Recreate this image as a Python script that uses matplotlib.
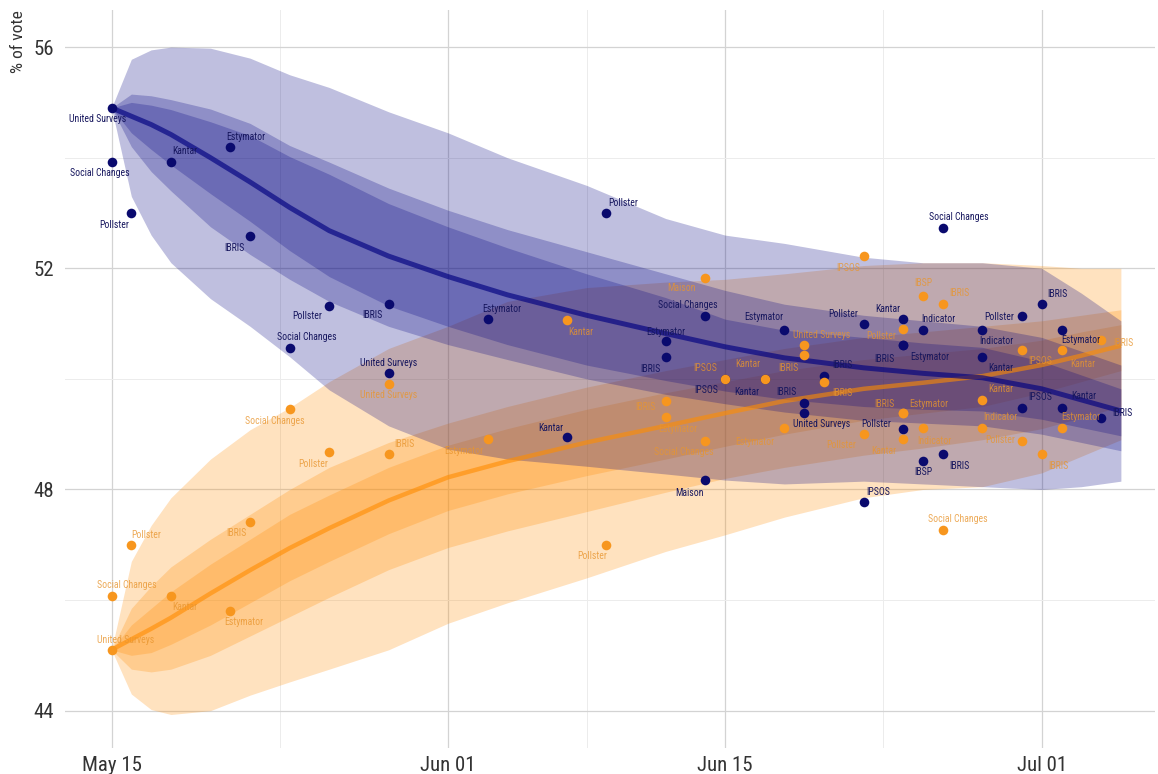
import matplotlib
matplotlib.use("Agg")
import matplotlib.pyplot as plt
import matplotlib.dates as mdates
from matplotlib import font_manager
import pandas as pd

# --- polls (second round), blue = candidate A, orange = candidate B
poll_dates = ["2020-05-15", "2020-05-15", "2020-05-16", "2020-05-18", "2020-05-21",
              "2020-05-22", "2020-05-24", "2020-05-26", "2020-05-29", "2020-05-29",
              "2020-06-03", "2020-06-07", "2020-06-09", "2020-06-12", "2020-06-12",
              "2020-06-14", "2020-06-14", "2020-06-15", "2020-06-17", "2020-06-18",
              "2020-06-19", "2020-06-19", "2020-06-20", "2020-06-22", "2020-06-22",
              "2020-06-24", "2020-06-24", "2020-06-24", "2020-06-24", "2020-06-25",
              "2020-06-25", "2020-06-26", "2020-06-26", "2020-06-28", "2020-06-28",
              "2020-06-30", "2020-06-30", "2020-07-01", "2020-07-02", "2020-07-02",
              "2020-07-04"]
pollsters = ["United Surveys", "Social Changes", "Pollster", "Kantar", "Estymator",
             "IBRIS", "Social Changes", "Pollster", "IBRIS", "United Surveys",
             "Estymator", "Kantar", "Pollster", "Estymator", "IBRIS",
             "Social Changes", "Maison", "IPSOS", "Kantar", "Estymator",
             "IBRIS", "United Surveys", "IBRIS", "Pollster", "IPSOS",
             "Kantar", "Estymator", "IBRIS", "Pollster", "Indicator",
             "IBSP", "Social Changes", "IBRIS", "Indicator", "Kantar",
             "Pollster", "IPSOS", "IBRIS", "Estymator", "Kantar",
             "IBRIS"]
blue_pct = [54.90, 53.92, 53.00, 53.92, 54.19, 52.59, 50.55, 51.32, 51.36, 50.10,
            51.09, 48.94, 53.00, 50.69, 50.40, 51.13, 48.17, 50.00, 50.00, 50.89,
            49.56, 49.39, 50.06, 51.00, 47.77, 51.09, 50.62, 50.62, 49.09, 50.89,
            48.51, 52.73, 48.65, 50.89, 50.39, 51.13, 49.48, 51.36, 50.89, 49.47,
            49.30]
orange_pct = [45.10, 46.08, 47.00, 46.08, 45.81, 47.41, 49.45, 48.68, 48.64, 49.90,
              48.91, 51.06, 47.00, 49.31, 49.60, 48.87, 51.83, 50.00, 50.00, 49.11,
              50.44, 50.61, 49.94, 49.00, 52.23, 48.91, 49.38, 49.38, 50.91, 49.11,
              51.49, 47.27, 51.35, 49.11, 49.61, 48.87, 50.52, 48.64, 49.11, 50.53,
              50.70]

# --- model trend and credible bands
trend_dates = ["2020-05-15", "2020-05-16", "2020-05-17", "2020-05-18", "2020-05-20",
               "2020-05-22", "2020-05-24", "2020-05-26", "2020-05-29", "2020-06-01",
               "2020-06-04", "2020-06-08", "2020-06-12", "2020-06-15", "2020-06-18",
               "2020-06-22", "2020-06-25", "2020-06-28", "2020-07-01", "2020-07-03",
               "2020-07-05"]
blue_trend = [54.90, 54.75, 54.60, 54.42, 54.00, 53.56, 53.10, 52.68, 52.22, 51.85, 51.52,
              51.15, 50.82, 50.58, 50.38, 50.20, 50.10, 50.02, 49.82, 49.62, 49.42]
blue_95_hi = [54.90, 55.78, 55.95, 56.00, 55.98, 55.80, 55.50, 55.27, 54.83, 54.45, 54.00,
              53.50, 52.90, 52.60, 52.45, 52.20, 52.10, 52.10, 52.00, 51.55, 51.05]
blue_95_lo = [54.90, 53.30, 52.60, 52.10, 51.45, 50.95, 50.40, 49.80, 49.15, 48.73, 48.55,
              48.42, 48.28, 48.17, 48.10, 48.15, 48.10, 48.05, 48.00, 48.05, 48.15]
blue_80_hi = [54.90, 55.15, 55.12, 55.05, 54.88, 54.62, 54.22, 53.92, 53.45, 53.05, 52.70,
              52.30, 51.90, 51.60, 51.35, 51.15, 51.05, 50.95, 50.75, 50.50, 50.25]
blue_80_lo = [54.90, 54.20, 53.75, 53.40, 52.75, 52.25, 51.80, 51.40, 50.95, 50.62, 50.35,
              50.00, 49.72, 49.55, 49.40, 49.25, 49.20, 49.15, 49.00, 48.85, 48.70]
blue_50_hi = [54.90, 55.00, 54.95, 54.87, 54.65, 54.40, 54.02, 53.70, 53.17, 52.75, 52.37,
              51.90, 51.47, 51.08, 50.88, 50.75, 50.65, 50.57, 50.32, 50.07, 49.82]
blue_50_lo = [54.90, 54.45, 54.15, 53.87, 53.35, 52.85, 52.32, 51.85, 51.32, 50.95, 50.62,
              50.25, 49.97, 49.78, 49.63, 49.50, 49.45, 49.42, 49.27, 49.12, 48.97]

orange_trend = [45.10, 45.29, 45.48, 45.68, 46.12, 46.54, 46.94, 47.30, 47.80, 48.22, 48.51,
                48.85, 49.15, 49.38, 49.60, 49.82, 49.93, 50.05, 50.25, 50.42, 50.60]
orange_95_hi = [45.10, 46.70, 47.35, 47.85, 48.55, 49.08, 49.48, 49.95, 50.55, 50.95, 51.40,
                51.65, 51.75, 51.80, 51.90, 52.05, 52.10, 52.10, 52.05, 52.00, 52.00]
orange_95_lo = [45.10, 44.30, 44.02, 43.93, 44.00, 44.28, 44.52, 44.75, 45.10, 45.58, 45.95,
                46.40, 46.88, 47.18, 47.50, 47.85, 48.00, 48.05, 48.30, 48.60, 48.90]
orange_80_hi = [45.10, 45.85, 46.25, 46.60, 47.10, 47.55, 48.00, 48.40, 48.85, 49.20, 49.50,
                49.85, 50.15, 50.35, 50.55, 50.75, 50.85, 50.95, 51.05, 51.15, 51.25]
orange_80_lo = [45.10, 44.75, 44.70, 44.75, 45.00, 45.35, 45.70, 46.05, 46.55, 46.95, 47.25,
                47.60, 47.95, 48.20, 48.40, 48.62, 48.75, 48.90, 49.10, 49.30, 49.50]
orange_50_hi = [45.10, 45.55, 45.85, 46.15, 46.65, 47.10, 47.55, 47.90, 48.40, 48.80, 49.10,
                49.45, 49.75, 49.95, 50.15, 50.35, 50.45, 50.55, 50.70, 50.85, 50.98]
orange_50_lo = [45.10, 45.00, 45.05, 45.20, 45.55, 45.95, 46.35, 46.70, 47.20, 47.62, 47.92,
                48.25, 48.55, 48.78, 49.00, 49.25, 49.38, 49.50, 49.75, 49.95, 50.15]

x_ticks = ["2020-05-15", "2020-06-01", "2020-06-15", "2020-07-01"]
x_tick_labels = ["May 15", "Jun 01", "Jun 15", "Jul 01"]
x_minor = ["2020-05-23 12:00", "2020-06-08 00:00", "2020-06-23 00:00"]
y_ticks = [44, 48, 52, 56]

# label nudges in pixels (dx, dy with y pointing down), same order as the polls
blue_nudge = [(-14, 11), (-12, 11), (-17, 12), (14, -11), (16, -10), (-16, 12), (17, -11),
              (-22, 10), (-16, 11), (0, -10), (14, -10), (-16, -9), (17, -10), (0, -9),
              (-15, 12), (-17, -11), (-16, 13), (-19, 11), (-18, 13), (-21, -13), (-18, -11),
              (17, 11), (18, -11), (-20, -10), (15, -10), (-15, -10), (27, 12), (-19, 14),
              (-27, -5), (15, -11), (0, 11), (16, -11), (17, 12), (14, 11), (18, 11),
              (-23, 1), (18, -11), (16, -10), (19, 10), (22, -12), (21, -5)]
orange_nudge = [(14, -10), (15, -11), (15, -10), (14, 11), (14, 11), (-14, 11), (-15, 12),
                (-16, 12), (16, -10), (0, 11), (-24, 12), (14, 12), (-14, 11), (12, 12),
                (-20, 6), (-21, 11), (-24, 10), (-20, -11), (-17, -15), (-30, 14), (-16, 13),
                (17, -10), (18, 11), (-22, 11), (-15, 12), (-19, 12), (26, -9), (-19, -9),
                (-22, 7), (11, 13), (0, -13), (15, -11), (17, -11), (18, -11), (18, -11),
                (-22, -1), (18, 11), (17, 12), (19, -11), (21, 14), (22, 3)]

# font: prefer a condensed face if one is installed
names = {f.name for f in font_manager.fontManager.ttflist}
font = next((n for n in ["Roboto Condensed", "Liberation Sans Narrow", "Roboto"] if n in names),
            "DejaVu Sans")
condensed = font != "Roboto"
plt.rcParams["font.family"] = [font, "DejaVu Sans"]

BLUE = "#000080"
ORANGE = "#ff8c00"

px = pd.to_datetime(poll_dates)
tx = pd.to_datetime(trend_dates)

fig = plt.figure(figsize=(11.58, 7.74), dpi=100)
ax = fig.add_axes([0.056, 0.034, 0.941, 0.953])

# grid first
start = mdates.date2num(pd.Timestamp("2020-05-15"))
ax.set_xlim(start - 2.36, start + 52.7)
ax.set_ylim(43.33, 56.67)
ax.set_xticks(pd.to_datetime(x_ticks))
ax.set_xticklabels(x_tick_labels)
ax.set_xticks(pd.to_datetime(x_minor), minor=True)
ax.set_yticks(y_ticks)
ax.set_yticks([46, 50, 54], minor=True)
ax.grid(which="major", color="#d3d3d3", lw=0.9)
ax.grid(which="minor", color="#ececec", lw=0.7)
ax.set_axisbelow(True)

# ribbons: orange below, blue on top
for lo, hi in [(orange_95_lo, orange_95_hi), (orange_80_lo, orange_80_hi), (orange_50_lo, orange_50_hi)]:
    ax.fill_between(tx, lo, hi, color=ORANGE, alpha=0.25, lw=0)
for lo, hi in [(blue_95_lo, blue_95_hi), (blue_80_lo, blue_80_hi), (blue_50_lo, blue_50_hi)]:
    ax.fill_between(tx, lo, hi, color=BLUE, alpha=0.25, lw=0)

ax.plot(tx, orange_trend, color=ORANGE, lw=3.2, alpha=0.6, solid_capstyle="butt")
ax.plot(tx, blue_trend, color=BLUE, lw=3.6, alpha=0.65, solid_capstyle="butt")

ax.scatter(px, blue_pct, s=48, color="#0a0a6e", lw=0, zorder=4)
ax.scatter(px, orange_pct, s=48, color="#f7961e", lw=0, zorder=5)

lab_size = 7 if condensed else 6.3
for d, v, name, (dx, dy) in zip(px, blue_pct, pollsters, blue_nudge):
    ax.annotate(name, (d, v), xytext=(dx, -dy), textcoords="offset pixels",
                ha="center", va="center", fontsize=lab_size, color="#17175e", zorder=6)
for d, v, name, (dx, dy) in zip(px, orange_pct, pollsters, orange_nudge):
    ax.annotate(name, (d, v), xytext=(dx, -dy), textcoords="offset pixels",
                ha="center", va="center", fontsize=lab_size, color="#e8952e",
                alpha=0.8, zorder=6)

for s in ax.spines.values():
    s.set_visible(False)
tick_size = 15 if condensed else 13.5
ax.tick_params(which="both", length=0)
ax.tick_params(axis="y", labelsize=tick_size, labelcolor="#333333", pad=8)
ax.tick_params(axis="x", labelsize=tick_size, labelcolor="#333333", pad=6)
ax.set_ylabel("% of vote", loc="top", fontsize=12.5, color="#333333", labelpad=5)

fig.savefig("out.png", dpi=100)
